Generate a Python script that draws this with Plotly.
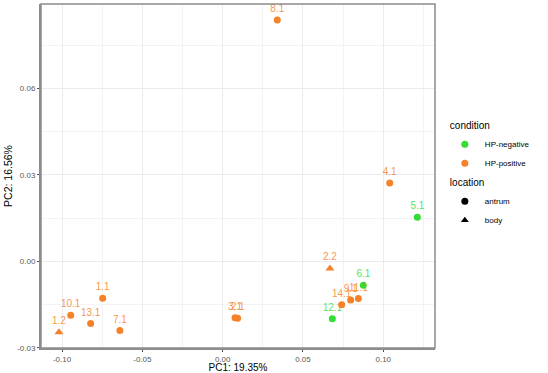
import plotly.graph_objects as go

samples = ["1.1", "1.2", "2.1", "2.2", "3.1", "4.1", "5.1", "6.1", "7.1", "8.1",
           "9.1", "10.1", "11.1", "12.1", "13.1", "14.1"]
pc1 = [-0.0747, -0.1019, 0.0093, 0.0668, 0.0077, 0.1040, 0.1212, 0.0876, -0.0640, 0.0340,
       0.0797, -0.0946, 0.0845, 0.0683, -0.0822, 0.0741]
pc2 = [-0.0128, -0.0246, -0.0198, -0.0025, -0.0196, 0.0272, 0.0153, -0.0083, -0.0240, 0.0838,
       -0.0134, -0.0187, -0.0129, -0.0199, -0.0216, -0.0151]
condition = ["HP-positive", "HP-positive", "HP-positive", "HP-positive", "HP-positive",
             "HP-positive", "HP-negative", "HP-negative", "HP-positive", "HP-positive",
             "HP-positive", "HP-positive", "HP-positive", "HP-negative", "HP-positive",
             "HP-positive"]
location = ["antrum", "body", "antrum", "body", "antrum", "antrum", "antrum", "antrum",
            "antrum", "antrum", "antrum", "antrum", "antrum", "antrum", "antrum", "antrum"]

x_ticks = [-0.10, -0.05, 0.00, 0.05, 0.10]
x_tick_labels = ["-0.10", "-0.05", "0.00", "0.05", "0.10"]
y_ticks = [-0.03, 0.00, 0.03, 0.06]
y_tick_labels = ["-0.03", "0.00", "0.03", "0.06"]

cond_levels = ["HP-negative", "HP-positive"]
loc_levels = ["antrum", "body"]
cond_colors = {"HP-negative": "#33DD33", "HP-positive": "#F5822A"}
label_colors = {"HP-negative": "rgba(51,221,51,0.85)", "HP-positive": "rgba(245,130,42,0.85)"}
loc_symbols = {"antrum": "circle", "body": "triangle-up"}

FONT = "Liberation Sans, Arial, sans-serif"

fig = go.Figure()

for c in cond_levels:
    for l in loc_levels:
        idx = [i for i in range(len(samples)) if condition[i] == c and location[i] == l]
        if not idx:
            continue
        fig.add_trace(go.Scatter(
            x=[pc1[i] for i in idx], y=[pc2[i] for i in idx],
            text=[samples[i] for i in idx],
            mode="markers+text", textposition="top center",
            textfont=dict(family=FONT, size=10, color=label_colors[c]),
            marker=dict(color=cond_colors[c], symbol=loc_symbols[l], size=8 if l == "body" else 7,
                        line=dict(width=0)),
            showlegend=False, cliponaxis=False,
        ))

# legend entries
for c in cond_levels:
    fig.add_trace(go.Scatter(
        x=[None], y=[None], mode="markers", name=c,
        marker=dict(color=cond_colors[c], symbol="circle", size=7),
        legendgroup="condition", legendgrouptitle=dict(text="condition",
                                                       font=dict(family=FONT, size=10, color="black")),
    ))
for l in loc_levels:
    fig.add_trace(go.Scatter(
        x=[None], y=[None], mode="markers", name=l,
        marker=dict(color="black", symbol=loc_symbols[l], size=7),
        legendgroup="location", legendgrouptitle=dict(text="location",
                                                      font=dict(family=FONT, size=10, color="black")),
    ))

axis_common = dict(
    showgrid=True, gridcolor="#EBEBEB", gridwidth=1, automargin=False,
    zeroline=False, showline=True, linecolor="#8C8C8C", linewidth=2, mirror=False,
    ticks="outside", ticklen=2, tickcolor="#4D4D4D", tickwidth=1,
    tickfont=dict(family=FONT, size=8, color="#595959"),
)

fig.update_layout(
    width=548, height=373,
    margin=dict(l=41, r=113, t=4, b=25, autoexpand=False),
    paper_bgcolor="white", plot_bgcolor="white",
    font=dict(family=FONT, size=9, color="black"),
    xaxis=dict(axis_common, range=[-0.1131, 0.1322], tickvals=x_ticks, ticktext=x_tick_labels,
               title=dict(text="PC1: 19.35%", font=dict(family=FONT, size=10, color="black"), standoff=1),
               minor=dict(showgrid=True, gridcolor="#F3F3F3", tickvals=[-0.075, -0.025, 0.025, 0.075, 0.125])),
    yaxis=dict(axis_common, range=[-0.0301, 0.0894], tickvals=y_ticks, ticktext=y_tick_labels,
               title=dict(text="PC2: 16.56%", font=dict(family=FONT, size=10.5, color="black"), standoff=2),
               minor=dict(showgrid=True, gridcolor="#F3F3F3", tickvals=[-0.015, 0.015, 0.045, 0.075])),
    legend=dict(x=1.025, y=0.69, xanchor="left", yanchor="top",
                font=dict(family=FONT, size=8, color="black"), tracegroupgap=0,
                itemwidth=30, itemsizing="trace", bgcolor="rgba(0,0,0,0)"),
    shapes=[dict(type="rect", xref="paper", yref="paper", x0=0, y0=0, x1=1, y1=1,
                 line=dict(color="#8C8C8C", width=1.5), fillcolor="rgba(0,0,0,0)", layer="above")],
)

fig.write_html("out.html", config={"displayModeBar": False},
               post_script="document.body.style.margin='0';document.body.style.padding='0';")
